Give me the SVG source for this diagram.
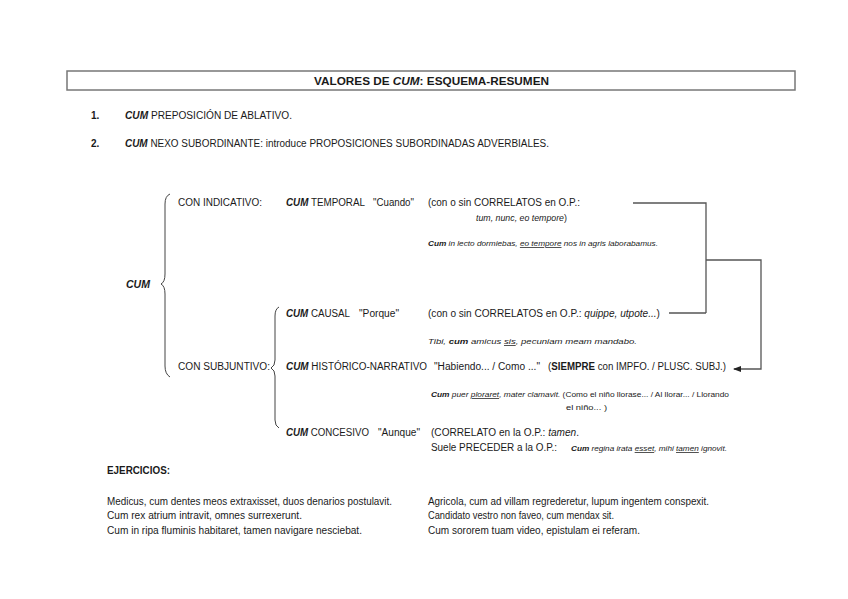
<svg xmlns="http://www.w3.org/2000/svg" width="848" height="599" viewBox="0 0 848 599">
<style>
text{font-family:"Liberation Sans",Arial,sans-serif;font-size:10px;fill:#1a1a1a}
.b{font-weight:bold}
.i{font-style:italic}
.bi{font-weight:bold;font-style:italic}
.s{font-size:7.5px}
.u{text-decoration:underline}
.ln{fill:none;stroke:#555;stroke-width:1.3}
.br{fill:none;stroke:#444;stroke-width:1}
</style>
<defs>
<marker id="ah" markerWidth="8" markerHeight="6" refX="7" refY="3" orient="auto" markerUnits="userSpaceOnUse">
<path d="M0,0 L8,3 L0,6 z" fill="#222"/>
</marker>
</defs>
<rect width="848" height="599" fill="#fff"/>

<g id="title">
<rect x="67" y="71" width="728" height="19" fill="none" stroke="#777" stroke-width="1.5"/>
<text x="314" y="85" class="b" style="font-size:11.5px" textLength="235" lengthAdjust="spacingAndGlyphs">VALORES DE <tspan class="bi">CUM</tspan>: ESQUEMA-RESUMEN</text>
</g>

<g id="item1">
<text x="91" y="119" class="b">1.</text>
<text x="125" y="119" textLength="167" lengthAdjust="spacingAndGlyphs"><tspan class="bi">CUM</tspan> PREPOSICIÓN DE ABLATIVO.</text>
</g>
<g id="item2">
<text x="91" y="147" class="b">2.</text>
<text x="125" y="147" textLength="424" lengthAdjust="spacingAndGlyphs"><tspan class="bi">CUM</tspan> NEXO SUBORDINANTE: introduce PROPOSICIONES SUBORDINADAS ADVERBIALES.</text>
</g>

<g id="cum-root">
<text x="126" y="288" class="bi" textLength="24" lengthAdjust="spacingAndGlyphs">CUM</text>
<path class="br" d="M170,194 Q165,196 165,204 L165,274 Q165,282 161,284 Q165,286 165,294 L165,366 Q165,374 170,377"/>
</g>

<g id="indicativo">
<text x="178" y="206" textLength="84" lengthAdjust="spacingAndGlyphs">CON INDICATIVO:</text>
</g>

<g id="temporal">
<text x="286" y="206" textLength="79" lengthAdjust="spacingAndGlyphs"><tspan class="bi">CUM</tspan> TEMPORAL</text>
<text x="373" y="206" textLength="41" lengthAdjust="spacingAndGlyphs">"Cuando"</text>
<text x="428" y="206" textLength="152" lengthAdjust="spacingAndGlyphs">(con o sin CORRELATOS en O.P.:</text>
<text x="476" y="221" style="font-size:8.8px"><tspan class="i">tum, nunc, eo tempore</tspan>)</text>
<text x="428" y="246" class="i s" textLength="230" lengthAdjust="spacingAndGlyphs"><tspan class="b">Cum</tspan> in lecto dormiebas, <tspan class="u">eo tempore</tspan> nos in agris laborabamus.</text>
</g>

<g id="subjuntivo">
<text x="178" y="370" textLength="92" lengthAdjust="spacingAndGlyphs">CON SUBJUNTIVO:</text>
<path class="br" d="M279,307 Q275,309 275,316 L275,360 Q275,366 271,368 Q275,370 275,376 L275,420 Q275,426 279,428"/>
</g>

<g id="causal">
<text x="286" y="317" textLength="64" lengthAdjust="spacingAndGlyphs"><tspan class="bi">CUM</tspan> CAUSAL</text>
<text x="359" y="317" textLength="40" lengthAdjust="spacingAndGlyphs">"Porque"</text>
<text x="428" y="317" textLength="232" lengthAdjust="spacingAndGlyphs">(con o sin CORRELATOS en O.P.: <tspan class="i">quippe, utpote...</tspan>)</text>
<text x="428" y="344" class="i s" textLength="209" lengthAdjust="spacingAndGlyphs">Tibi, <tspan class="b">cum</tspan> amicus <tspan class="u">sis</tspan>, pecuniam meam mandabo.</text>
</g>

<g id="historico">
<text x="286" y="370" textLength="141" lengthAdjust="spacingAndGlyphs"><tspan class="bi">CUM</tspan> HISTÓRICO-NARRATIVO</text>
<text x="434" y="370" textLength="106" lengthAdjust="spacingAndGlyphs">"Habiendo... / Como ..."</text>
<text x="548" y="370" textLength="178" lengthAdjust="spacingAndGlyphs">(<tspan class="b">SIEMPRE</tspan> con IMPFO. / PLUSC. SUBJ.)</text>
<text x="431" y="397" class="s" textLength="298" lengthAdjust="spacingAndGlyphs"><tspan class="bi">Cum</tspan><tspan class="i"> puer <tspan class="u">ploraret</tspan>, mater clamavit.</tspan>  (Como el niño llorase... / Al llorar... / Llorando</text>
<text x="566" y="410" class="s" textLength="41" lengthAdjust="spacingAndGlyphs">el niño... )</text>
</g>

<g id="concesivo">
<text x="286" y="436" textLength="83" lengthAdjust="spacingAndGlyphs"><tspan class="bi">CUM</tspan> CONCESIVO</text>
<text x="378" y="436" textLength="42" lengthAdjust="spacingAndGlyphs">"Aunque"</text>
<text x="431" y="436" textLength="148" lengthAdjust="spacingAndGlyphs">(CORRELATO en la O.P.: <tspan class="i">tamen</tspan>.</text>
<text x="431" y="451" textLength="126" lengthAdjust="spacingAndGlyphs">Suele PRECEDER a la O.P.:</text>
<text x="571" y="451" class="i s" textLength="156" lengthAdjust="spacingAndGlyphs"><tspan class="b">Cum</tspan> regina irata <tspan class="u">esset</tspan>, mihi <tspan class="u">tamen</tspan> ignovit.</text>
</g>

<g id="connectors">
<polyline class="ln" points="633,203 706,203 706,313"/>
<polyline class="ln" points="669,313 706,313"/>
<polyline class="ln" points="706,260 761,260 761,369 734,369" marker-end="url(#ah)"/>
</g>

<g id="ejercicios">
<text x="107" y="474" class="b" textLength="63" lengthAdjust="spacingAndGlyphs">EJERCICIOS:</text>
<text x="107" y="505" textLength="285" lengthAdjust="spacingAndGlyphs">Medicus, cum dentes meos extraxisset, duos denarios postulavit.</text>
<text x="107" y="519" textLength="195" lengthAdjust="spacingAndGlyphs">Cum rex atrium intravit, omnes surrexerunt.</text>
<text x="107" y="534" textLength="255" lengthAdjust="spacingAndGlyphs">Cum in ripa fluminis habitaret, tamen navigare nesciebat.</text>
<text x="428" y="505" textLength="281" lengthAdjust="spacingAndGlyphs">Agricola, cum ad villam regrederetur, lupum ingentem conspexit.</text>
<text x="428" y="519" textLength="186" lengthAdjust="spacingAndGlyphs">Candidato vestro non faveo, cum mendax sit.</text>
<text x="428" y="534" textLength="212" lengthAdjust="spacingAndGlyphs">Cum sororem tuam video, epistulam ei referam.</text>
</g>
</svg>
